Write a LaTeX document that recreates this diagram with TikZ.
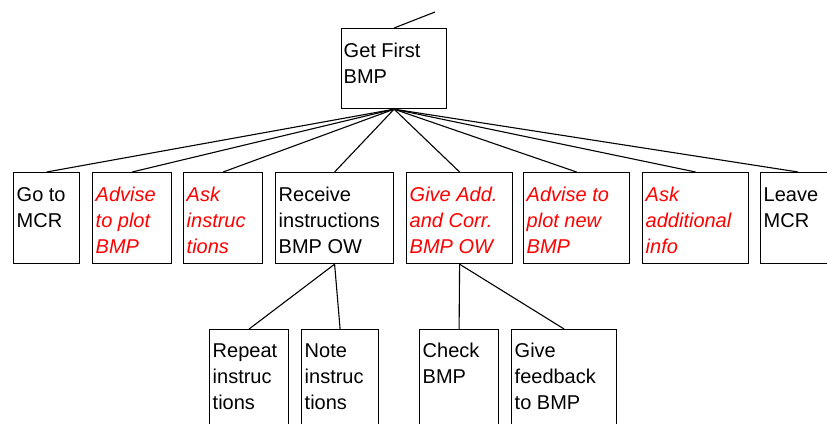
\documentclass[tikz,border=0pt]{standalone}
\usepackage{fontspec}
\setmainfont{Liberation Sans}
\begin{document}
\begin{tikzpicture}[x=1pt,y=-1pt,
  box/.style={draw=black, line width=1.2pt, rectangle, inner sep=0pt, anchor=north west},
  rowbox/.style={box, minimum height=91pt},
  lowbox/.style={box, minimum height=115pt},
  tx/.style={anchor=base west, inner sep=0pt, xshift=3.5pt, yshift=-29pt, font=\fontsize{20}{26}\selectfont},
  redtx/.style={tx, text=red, font=\fontsize{20}{26}\selectfont\itshape},
  link/.style={draw=black, line width=1.1pt}]
\useasboundingbox (0,0) rectangle (827,423);
\clip (0,0) rectangle (827,423);
% boxes
\node[box, minimum width=105pt, minimum height=80pt] (top) at (341,28) {};
\node[rowbox, minimum width=66pt] (b1) at (13,172) {};
\node[rowbox, minimum width=79pt] (b2) at (92,172) {};
\node[rowbox, minimum width=79pt] (b3) at (183,172) {};
\node[rowbox, minimum width=118pt] (b4) at (275,172) {};
\node[rowbox, minimum width=106pt] (b5) at (406,172) {};
\node[rowbox, minimum width=106pt] (b6) at (523,172) {};
\node[rowbox, minimum width=106pt] (b7) at (642,172) {};
\node[rowbox, minimum width=75pt] (b8) at (760,172) {};
\node[lowbox, minimum width=79pt] (c1) at (209,329) {};
\node[lowbox, minimum width=77pt] (c2) at (301,329) {};
\node[lowbox, minimum width=79pt] (c3) at (419,329) {};
\node[lowbox, minimum width=105pt] (c4) at (511,329) {};
% texts
\node[tx, xshift=-1pt] (ttop) at (top.north west) {\parbox[t]{150pt}{Get First\\BMP}};
\node[tx] (t1) at (b1.north west) {\parbox[t]{150pt}{Go to\\MCR}};
\node[redtx] (t2) at (b2.north west) {\parbox[t]{150pt}{Advise\\to plot\\BMP}};
\node[redtx] (t3) at (b3.north west) {\parbox[t]{150pt}{Ask\\instruc\\tions}};
\node[tx] (t4) at (b4.north west) {\parbox[t]{150pt}{Receive\\instructions\\BMP OW}};
\node[redtx] (t5) at (b5.north west) {\parbox[t]{150pt}{Give Add.\\and Corr.\\BMP OW}};
\node[redtx] (t6) at (b6.north west) {\parbox[t]{150pt}{Advise to\\plot new\\BMP}};
\node[redtx] (t7) at (b7.north west) {\parbox[t]{150pt}{Ask\\additional\\info}};
\node[tx] (t8) at (b8.north west) {\parbox[t]{150pt}{Leave\\MCR}};
\node[tx, yshift=1pt] (u1) at (c1.north west) {\parbox[t]{150pt}{Repeat\\instruc\\tions}};
\node[tx, yshift=1pt] (u2) at (c2.north west) {\parbox[t]{150pt}{Note\\instruc\\tions}};
\node[tx, yshift=1pt] (u3) at (c3.north west) {\parbox[t]{150pt}{Check\\BMP}};
\node[tx, yshift=1pt] (u4) at (c4.north west) {\parbox[t]{150pt}{Give\\feedback\\to BMP}};
% connectors
\coordinate (up) at (435,12);
\draw[link] (top.north) -- (up);
\foreach \b in {b1,b2,b3,b4,b5,b6,b7,b8}
  \draw[link] (top.south) -- (\b.north);
\draw[link] (b4.south) -- (c1.north);
\draw[link] (b4.south) -- (c2.north);
\draw[link] (b5.south) -- (c3.north);
\draw[link] (b5.south) -- (c4.north);
\end{tikzpicture}
\end{document}
